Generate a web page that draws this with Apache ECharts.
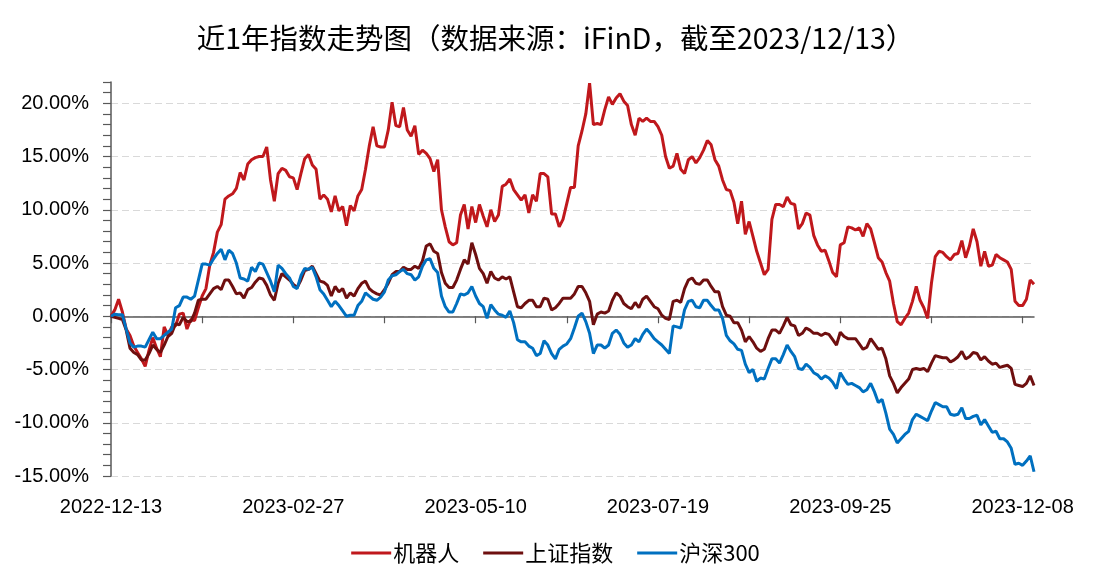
<!DOCTYPE html>
<html>
<head>
<meta charset="utf-8">
<script src="https://cdn.jsdelivr.net/npm/echarts@6/dist/echarts.min.js"></script>
<style>
html,body{margin:0;padding:0;background:#fff;}
#chart{width:1111px;height:586px;}
</style>
</head>
<body>
<div id="chart"></div>
<script>
// Trading days (categories) by month
const tradingDays = {
  '2022-12': [13,14,15,16,19,20,21,22,23,26,27,28,29,30],
  '2023-01': [3,4,5,6,9,10,11,12,13,16,17,18,19,20,30,31],
  '2023-02': [1,2,3,6,7,8,9,10,13,14,15,16,17,20,21,22,23,24,27,28],
  '2023-03': [1,2,3,6,7,8,9,10,13,14,15,16,17,20,21,22,23,24,27,28,29,30,31],
  '2023-04': [3,4,6,7,10,11,12,13,14,17,18,19,20,21,24,25,26,27,28],
  '2023-05': [4,5,8,9,10,11,12,15,16,17,18,19,22,23,24,25,26,29,30,31],
  '2023-06': [1,2,5,6,7,8,9,12,13,14,15,16,19,20,21,26,27,28,29,30],
  '2023-07': [3,4,5,6,7,10,11,12,13,14,17,18,19,20,21,24,25,26,27,28,31],
  '2023-08': [1,2,3,4,7,8,9,10,11,14,15,16,17,18,21,22,23,24,25,28,29,30,31],
  '2023-09': [1,4,5,6,7,8,11,12,13,14,15,18,19,20,21,22,25,26,27,28],
  '2023-10': [9,10,11,12,13,16,17,18,19,20,23,24,25,26,27,30,31],
  '2023-11': [1,2,3,6,7,8,9,10,13,14,15,16,17,20,21,22,23,24,27,28,29,30],
  '2023-12': [1,4,5,6,7,8,11,12,13]
};
const categories = [];
Object.keys(tradingDays).forEach(function (m) {
  tradingDays[m].forEach(function (d) { categories.push(m + '-' + (d < 10 ? '0' + d : '' + d)); });
});

const seriesNames = ['机器人', '上证指数', '沪深300'];

// values in %
const robot = [
  0,0.6,1.6,0.4,-1.2,-1.8,-2.8,-3.4,-4.0,-4.7,
  -3.2,-2.0,-3.0,-3.8,-1.0,-1.8,-1.0,-0.9,0.2,0.3,
  -1.2,-0.3,-0.4,0.8,1.9,2.6,4.8,6.0,7.9,8.6,
  11.0,11.3,11.5,12.0,13.5,12.8,14.3,14.7,14.9,15.0,
  15.0,15.9,12.8,10.8,13.4,13.9,13.7,13.1,13.0,11.9,
  13.4,14.8,15.2,14.2,13.8,11.0,11.4,11.0,9.8,11.3,
  9.9,10.3,8.5,10.4,9.9,11.3,11.9,13.8,16.0,17.8,
  16.0,15.9,15.9,17.5,20.1,17.9,17.8,19.6,17.5,16.9,
  17.9,15.2,15.6,15.3,14.8,13.6,14.7,10.0,8.4,7.0,
  6.7,6.9,9.5,10.5,8.2,10.3,8.8,10.5,9.4,8.4,
  10.0,8.9,9.5,12.2,12.4,12.9,11.9,11.4,10.9,11.4,
  9.7,11.4,10.8,13.4,13.4,13.1,9.6,9.6,8.4,9.1,
  10.6,12.1,12.1,16.0,17.4,19.0,21.9,18.0,18.1,18.0,
  19.4,20.6,19.9,20.5,20.9,20.2,19.8,18.0,17.0,18.6,
  18.3,18.6,18.3,18.3,17.8,17.0,15.0,13.9,14.1,15.3,
  13.8,13.4,14.7,15.0,14.4,14.9,15.6,16.5,16.1,14.7,
  14.1,12.8,11.9,11.8,10.7,8.7,10.8,7.7,8.9,7.5,
  6.1,5.0,3.9,4.4,9.1,10.5,10.5,10.3,11.2,10.6,
  10.5,8.2,8.7,9.7,9.5,7.6,6.7,6.1,6.2,5.2,
  4.1,3.7,6.7,6.9,8.4,8.3,8.1,8.3,7.5,8.7,
  8.2,6.9,5.5,5.1,4.1,3.3,1.2,-0.5,-0.8,-0.2,
  0.3,1.4,2.8,1.5,0.8,-0.2,3.1,5.6,6.1,6.0,
  5.6,5.3,5.8,5.9,7.1,5.5,6.6,8.2,7.0,4.7,
  6.1,4.7,4.8,5.8,5.5,5.3,5.1,4.4,1.4,1.0,
  1.0,1.6,3.4,3.0
];
const shanghai = [
  0,-0.1,-0.2,-0.3,-1.3,-3.0,-3.4,-3.6,-4.1,-4.1,
  -3.5,-2.7,-3.1,-3.4,-2.7,-1.9,-1.6,-0.7,-0.8,-0.1,
  -0.5,-0.5,0.3,1.5,1.6,1.6,2.1,2.6,2.8,2.5,
  3.4,3.4,2.8,2.1,2.2,1.7,2.5,2.7,3.2,3.6,
  3.5,2.9,2.0,1.5,3.1,4.0,3.7,3.4,3.0,2.7,
  3.4,4.3,4.4,4.7,4.0,3.3,3.2,2.9,1.9,2.8,
  2.3,2.6,1.7,2.2,1.9,2.6,3.1,3.3,2.6,2.3,
  2.1,2.0,2.5,3.1,3.9,4.2,4.2,4.6,4.4,4.4,
  4.7,4.5,5.2,6.6,6.8,6.1,5.9,4.1,3.1,2.7,
  2.7,3.4,4.4,5.3,4.9,6.9,5.8,4.5,4.0,3.1,
  4.2,3.6,3.4,3.7,3.5,3.7,2.3,0.9,0.8,1.2,
  1.5,1.5,0.9,0.9,1.7,1.6,0.6,0.8,1.2,1.7,
  1.7,1.7,2.1,2.8,2.8,2.2,1.4,-0.8,0.2,0.4,
  0.3,0.5,1.5,2.2,1.9,1.2,0.9,0.7,1.3,0.8,
  1.6,1.9,1.4,0.9,0.7,0.1,-0.2,-0.3,1.4,1.5,
  1.3,2.6,3.4,3.6,3.1,3.0,3.4,3.4,2.8,2.3,
  2.3,0.9,0.1,0.0,-0.6,-0.6,-1.3,-2.4,-1.9,-2.4,
  -3.0,-3.3,-3.1,-2.1,-1.3,-1.3,-1.6,-0.9,-0.1,-0.8,
  -0.9,-1.8,-1.6,-1.1,-1.3,-1.6,-1.6,-1.8,-1.6,-1.7,
  -2.2,-2.7,-1.5,-1.9,-2.1,-2.1,-2.1,-2.6,-3.1,-2.9,
  -2.1,-2.6,-3.1,-3.0,-4.0,-5.6,-6.3,-7.2,-6.7,-6.3,
  -5.9,-5.0,-4.9,-5.0,-4.9,-5.2,-4.4,-3.7,-3.8,-3.9,
  -3.9,-4.3,-4.1,-3.8,-3.3,-4.0,-3.8,-3.4,-3.5,-4.1,
  -3.8,-4.2,-4.5,-4.4,-4.8,-4.7,-4.6,-4.9,-6.4,-6.5,
  -6.6,-6.3,-5.6,-6.5
];
const hs300 = [
  0,0.2,0.15,0.15,-1.2,-2.5,-2.9,-2.8,-2.8,-2.9,
  -2.2,-1.5,-2.1,-2.1,-1.8,-1.5,-1.2,0.8,1.0,1.8,
  1.8,1.6,1.9,3.4,4.9,4.9,4.8,5.4,5.9,6.3,
  5.3,6.2,5.9,5.0,3.6,3.5,3.3,4.6,4.2,5.0,
  4.9,4.1,3.3,2.3,4.8,4.5,4.0,3.6,2.8,2.6,
  3.8,4.5,4.4,4.6,3.7,2.5,2.1,1.5,0.9,1.4,
  1.0,0.5,0.0,0.1,0.1,1.0,1.4,2.2,1.9,1.6,
  1.5,1.8,2.3,3.4,3.8,3.9,4.2,4.4,4.0,3.9,
  3.4,3.7,4.7,5.3,5.4,4.5,4.1,1.9,0.9,0.4,
  0.4,1.2,2.1,2.0,2.2,2.8,1.9,1.2,0.9,-0.2,
  1.1,0.6,0.2,0.1,-0.1,0.5,-0.6,-2.2,-2.4,-2.4,
  -2.8,-3.0,-3.7,-3.5,-2.3,-2.7,-3.5,-4.0,-3.1,-2.8,
  -2.6,-2.1,-1.1,0.0,0.3,-0.5,-1.6,-3.5,-2.7,-2.7,
  -3.0,-2.7,-1.6,-1.3,-1.7,-2.5,-2.9,-2.7,-2.1,-2.4,
  -1.7,-1.2,-1.6,-2.1,-2.4,-2.7,-3.1,-3.5,-0.9,-1.0,
  -1.1,0.6,1.4,1.5,0.9,0.8,1.5,1.5,1.0,0.6,
  0.6,-0.2,-1.8,-2.3,-2.6,-3.1,-3.2,-4.5,-5.3,-5.0,
  -6.1,-5.8,-5.9,-4.9,-4.0,-4.0,-4.4,-3.6,-2.7,-3.3,
  -3.8,-4.9,-5.0,-4.5,-4.8,-5.3,-5.5,-5.9,-5.6,-5.8,
  -6.2,-6.8,-5.3,-5.9,-6.4,-6.3,-6.5,-6.7,-7.1,-6.9,
  -6.3,-7.1,-8.1,-7.8,-9.1,-10.6,-11.1,-11.9,-11.5,-11.1,
  -10.8,-9.7,-9.2,-9.4,-9.6,-9.8,-8.9,-8.1,-8.3,-8.5,
  -8.5,-9.2,-9.3,-9.2,-8.6,-9.6,-9.6,-9.4,-9.3,-10.2,
  -9.7,-10.3,-10.9,-10.8,-11.5,-11.5,-11.8,-12.4,-13.9,-13.8,
  -14.0,-13.6,-13.1,-14.6
];

const colors = ['#C0181C', '#6E0F0F', '#0070C0'];
const axisColor = '#595959';
const fontLat = 'Liberation Sans';
const fontCJK = '"Noto Sans CJK SC"';

const chart = echarts.init(document.getElementById('chart'), null, {renderer: 'canvas'});
chart.setOption({
  animation: false,
  backgroundColor: '#ffffff',
  title: {
    text: '近1年指数走势图（数据来源：iFinD，截至2023/12/13）',
    left: 'center',
    top: 19,
    textStyle: {fontFamily: fontCJK, fontSize: 28.5, fontWeight: 'normal', color: '#000'}
  },
  legend: {
    data: seriesNames,
    left: 'center',
    top: 537,
    icon: 'rect',
    itemWidth: 40,
    itemHeight: 3,
    itemGap: 24,
    textStyle: {fontFamily: fontCJK, fontSize: 22, color: '#000', padding: [0, 0, 0, -3]}
  },
  grid: {left: 111, right: 77, top: 82, bottom: 110, containLabel: false},
  xAxis: [
    {
      type: 'category',
      data: categories,
      boundaryGap: false,
      axisLine: {onZero: true, lineStyle: {color: axisColor, width: 1.5}},
      axisTick: {show: true, interval: 23, length: 7, inside: false, lineStyle: {color: axisColor, width: 1.2}},
      axisLabel: {show: false},
      splitLine: {show: false}
    },
    {
      type: 'category',
      data: categories,
      boundaryGap: false,
      position: 'bottom',
      axisLine: {show: false, onZero: false},
      axisTick: {show: false},
      axisLabel: {show: true, interval: 47, margin: 21, fontFamily: fontLat, fontSize: 20, color: '#000'},
      splitLine: {show: false}
    }
  ],
  yAxis: [
    {
      type: 'value',
      position: 'left',
      min: -15,
      max: 22,
      interval: 5,
      axisLine: {show: true, lineStyle: {color: axisColor, width: 1.5}},
      axisTick: {show: false},
      axisLabel: {
        margin: 22, fontFamily: fontLat, fontSize: 20, color: '#000',
        showMaxLabel: false,
        formatter: function (v) { return (Math.round(v) % 5 === 0) ? v.toFixed(2) + '%' : ''; }
      },
      splitLine: {show: true, showMaxLine: false, showMinLine: true, lineStyle: {color: '#D9D9D9', width: 1.2, type: [7, 4]}}
    },
    {
      type: 'value',
      position: 'left',
      min: -15,
      max: 22,
      interval: 1,
      axisLine: {show: false},
      axisTick: {show: true, length: 8, inside: false, lineStyle: {color: axisColor, width: 1.2}},
      axisLabel: {show: false},
      splitLine: {show: false}
    }
  ],
  series: [
    {name: seriesNames[0], type: 'line', data: robot, xAxisIndex: 0, yAxisIndex: 0, showSymbol: false, symbol: 'none',
     lineStyle: {color: colors[0], width: 3}, itemStyle: {color: colors[0]}},
    {name: seriesNames[1], type: 'line', data: shanghai, xAxisIndex: 0, yAxisIndex: 0, showSymbol: false, symbol: 'none',
     lineStyle: {color: colors[1], width: 3}, itemStyle: {color: colors[1]}},
    {name: seriesNames[2], type: 'line', data: hs300, xAxisIndex: 0, yAxisIndex: 0, showSymbol: false, symbol: 'none',
     lineStyle: {color: colors[2], width: 3}, itemStyle: {color: colors[2]}}
  ]
});
</script>
</body>
</html>
